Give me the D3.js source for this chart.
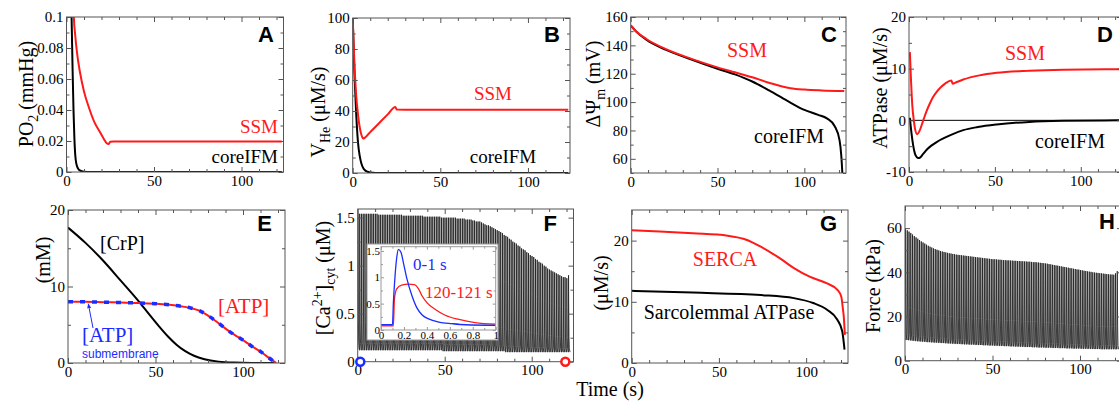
<!DOCTYPE html>
<html><head><meta charset="utf-8">
<script src="https://cdn.jsdelivr.net/npm/d3@7"></script>
<style>
body{margin:0;background:#fff}
svg{display:block}
</style></head><body>
<svg id="chart" width="1119" height="401"></svg>
<script>
// ---------------- DATA ----------------
const timeDomain = [0, 124];
const xTickVals = [0, 50, 100];
const xMinorVals = [10, 20, 30, 40, 60, 70, 80, 90, 110, 120];

// A: PO2 (mmHg)
const po2Ticks = [0, 0.02, 0.04, 0.06, 0.08, 0.1];
const po2Minor = [0.01, 0.03, 0.05, 0.07, 0.09];
const po2CoreIFM = [[0,0.5],[2,0.16],[2.9,0.1],[3.5,0.065],[4,0.04],[4.5,0.022],[5,0.011],[5.5,0.006],[6.5,0.0025],[7.6,0.001],[10,0.0002],[14,0],[123,0]];
const po2SSM = [[3.6,0.13],[4.2,0.1],[5,0.088],[6,0.077],[7.6,0.065],[10,0.052],[13,0.041],[16,0.032],[19,0.026],[21.5,0.021],[23,0.0185],[24,0.018],[25,0.0195],[27,0.0197],[123,0.0197]];

// B: V_He (uM/s)
const vheTicks = [0, 20, 40, 60, 80, 100];
const vheMinor = [10, 30, 50, 70, 90];
const vheCoreIFM = [[0,100],[1,64],[2,38],[3,20],[4,11],[5,6],[6,3.2],[7,1.8],[8,1],[10,0.3],[13,0],[123,0]];
const vheSSM = [[0,100],[1,70],[2,50],[3,38],[4,29.5],[5,24.5],[6,22.2],[7,22.8],[10,26.4],[15,32.1],[20,37.8],[24.3,42.6],[25.2,40.9],[30,40.8],[123,40.8]];

// C: delta Psi_m (mV)
const psiTicks = [60, 80, 100, 120, 140, 160];
const psiMinor = [50, 70, 90, 110, 130, 150];
const psiCoreIFM = [[0,154],[3,150],[9,144],[20,137],[35,130],[50,123.5],[60,119.5],[70,114.5],[80,108],[90,101],[100,94.5],[108,91],[113,88.5],[117.5,83],[120.3,73],[121.3,62],[121.9,50]];
const psiSSM = [[0,154],[3,150],[9,144.5],[20,137.5],[35,130.5],[50,124.5],[60,121],[70,117.5],[80,113.5],[92,109.8],[100,108.8],[110,108.2],[123,107.8]];

// D: ATPase (uM/s)
const atpaseTicks = [-10, 0, 10, 20];
const atpaseMinor = [-5, 5, 15];
const atpaseSSM = [[0.5,13.2],[1.2,7.5],[1.9,3],[2.8,0],[3.6,-1.8],[4.8,-2.7],[6.2,-2],[8.3,0],[10,1.6],[12.2,3.3],[14,4.5],[16.1,5.5],[18.5,6.4],[21,7.1],[24.6,7.7],[25.5,7.1],[27,7.3],[31.6,7.9],[41,8.7],[51,9.2],[70,9.6],[90,9.8],[124,9.9]];
const atpaseCoreIFM = [[0.5,0.5],[1.5,-2.6],[2.5,-5],[3.5,-6.5],[4.5,-7.1],[5.5,-7.3],[6.4,-7.2],[8,-6.6],[10.3,-5.7],[13,-4.9],[16.1,-4.2],[20,-3.5],[23.8,-2.9],[31.6,-1.9],[40,-1.3],[51,-0.8],[70,-0.3],[90,-0.1],[124,0]];

// E: (mM)
const mmTicks = [0, 10, 20];
const mmMinor = [5, 15];
const crp = [[0,17.7],[10,15.7],[20,13.4],[30,10.8],[41,7.9],[47,6.2],[52,4.8],[57,3.5],[62,2.4],[67,1.55],[72,0.95],[78,0.5],[86,0.18],[95,0.05],[105,0.01],[118,0]];
const atp = [[0,8],[10,8],[20,7.95],[30,7.9],[40,7.85],[50,7.75],[58,7.6],[65,7.4],[70,7.2],[75,6.85],[80,6.2],[85,5.4],[90,4.5],[95,3.7],[100,3.0],[105,2.2],[110,1.5],[114,0.8],[119,0]];
const atpSubmembrane = [[0,8],[10,8],[20,7.95],[30,7.9],[40,7.85],[50,7.75],[58,7.6],[65,7.4],[70,7.2],[75,6.85],[80,6.2],[85,5.4],[90,4.5],[95,3.7],[100,3.0],[105,2.2],[110,1.5],[114,0.8],[119,0]];

// F: [Ca2+]cyt (uM) – per-beat peaks and troughs (1 Hz pacing)
const caTicks = [0, 0.5, 1, 1.5];
const caMinor = [0.25, 0.75, 1.25];
const caPeak = [
1.54,1.54,1.54,1.54,1.54,1.54,1.54,1.54,1.54,1.54,
1.54,1.54,1.53,1.53,1.53,1.53,1.53,1.53,1.53,1.53,
1.53,1.53,1.53,1.53,1.53,1.53,1.52,1.52,1.52,1.52,
1.52,1.52,1.52,1.52,1.52,1.52,1.52,1.52,1.51,1.51,
1.51,1.51,1.51,1.51,1.51,1.51,1.51,1.51,1.50,1.50,
1.50,1.50,1.50,1.50,1.50,1.50,1.50,1.49,1.49,1.49,
1.49,1.49,1.48,1.48,1.48,1.48,1.47,1.47,1.46,1.46,
1.46,1.45,1.44,1.43,1.42,1.42,1.41,1.40,1.39,1.38,
1.37,1.36,1.35,1.34,1.32,1.31,1.30,1.28,1.27,1.25,
1.24,1.23,1.21,1.20,1.18,1.17,1.16,1.14,1.13,1.11,
1.10,1.09,1.07,1.06,1.04,1.03,1.02,1.00,0.99,0.97,
0.96,0.95,0.94,0.93,0.92,0.91,0.90,0.89,0.88,0.88,
0.87,0.90];
const caTrough = [
0.13,0.12,0.12,0.12,0.12,0.12,0.12,0.12,0.12,0.12,
0.12,0.12,0.12,0.12,0.12,0.12,0.12,0.12,0.12,0.12,
0.12,0.12,0.12,0.12,0.12,0.12,0.12,0.12,0.12,0.12,
0.12,0.12,0.12,0.12,0.12,0.12,0.12,0.12,0.12,0.12,
0.12,0.12,0.12,0.12,0.12,0.12,0.12,0.12,0.12,0.11,
0.11,0.11,0.11,0.11,0.11,0.11,0.11,0.11,0.11,0.11,
0.11,0.11,0.11,0.11,0.11,0.11,0.11,0.11,0.11,0.11,
0.11,0.11,0.11,0.11,0.11,0.11,0.11,0.11,0.11,0.11,
0.11,0.11,0.11,0.11,0.11,0.10,0.10,0.10,0.10,0.10,
0.10,0.10,0.10,0.10,0.10,0.10,0.10,0.10,0.10,0.10,
0.10,0.10,0.10,0.10,0.10,0.10,0.10,0.10,0.10,0.10,
0.10,0.10,0.10,0.10,0.10,0.10,0.10,0.10,0.10,0.10,
0.10,0.10];
const caBeatShape = [[0,0],[0.1,0],[0.15,1],[0.25,0.6],[0.4,0.2],[0.6,0.05],[1,0]];
// F inset: single beats
const insetXTicks = [0, 0.2, 0.4, 0.6, 0.8, 1];
const insetXMinor = [0.1, 0.3, 0.5, 0.7, 0.9];
const insetYTicks = [0, 0.5, 1, 1.5];
const insetYMinor = [0.25, 0.75, 1.25];
const caBeatFirst = [[0,0.1],[0.1,0.1],[0.108,0.52],[0.123,1.04],[0.137,1.37],[0.152,1.53],[0.175,1.47],[0.196,1.27],[0.225,0.98],[0.27,0.65],[0.313,0.42],[0.357,0.29],[0.415,0.21],[0.503,0.15],[0.62,0.12],[0.737,0.1],[1,0.09]];
const caBeatLast = [[0,0.08],[0.108,0.08],[0.117,0.59],[0.137,0.78],[0.18,0.85],[0.24,0.87],[0.29,0.86],[0.327,0.78],[0.357,0.65],[0.4,0.52],[0.474,0.39],[0.56,0.28],[0.68,0.2],[0.82,0.14],[1,0.11]];

// G: (uM/s)
const pumpTicks = [0, 10, 20];
const pumpMinor = [5, 15];
const serca = [[0,21.7],[16,21.5],[35,21.2],[55,20.8],[64,20.3],[70,19.6],[74,19],[80,18],[85,17.1],[93,15.5],[102,14.1],[112,13],[117.8,12],[120.2,10.8],[121,9],[121.6,7.5],[122.2,4.6]];
const sarcolemmalATPase = [[0,11.8],[35,11.5],[74,11.1],[93,10.6],[104,9.8],[112,8.7],[117.8,7.1],[120.7,5.2],[122,2.2]];

// H: Force (kPa) – per-beat peaks and troughs
const forceTicks = [0, 20, 40, 60];
const forceMinor = [10, 30, 50];
const forcePeak = [
59.5,59.0,58.4,57.8,57.1,56.4,55.8,55.2,54.6,54.0,
53.5,53.0,52.5,52.0,51.6,51.2,50.8,50.5,50.2,49.9,
49.6,49.4,49.2,49.0,48.8,48.6,48.5,48.3,48.2,48.0,
47.9,47.8,47.7,47.6,47.5,47.4,47.3,47.2,47.1,47.0,
46.9,46.8,46.7,46.6,46.5,46.4,46.3,46.2,46.1,46.0,
45.9,45.9,45.8,45.7,45.7,45.6,45.5,45.5,45.4,45.4,
45.3,45.3,45.2,45.2,45.1,45.1,45.0,45.0,44.9,44.9,
44.8,44.8,44.7,44.6,44.6,44.5,44.4,44.3,44.2,44.1,
44.0,43.9,43.7,43.6,43.4,43.3,43.1,43.0,42.8,42.7,
42.5,42.4,42.2,42.1,41.9,41.8,41.6,41.5,41.3,41.2,
41.0,40.9,40.7,40.6,40.4,40.3,40.2,40.0,39.9,39.8,
39.7,39.6,39.5,39.4,39.3,39.2,39.1,39.0,39.0,38.9,
39.5,40.5];
const forceTrough = [
9.6,9.4,9.3,9.2,9.1,9.0,8.9,8.8,8.8,8.7,
8.6,8.6,8.5,8.4,8.4,8.3,8.3,8.2,8.2,8.1,
8.1,8.0,8.0,7.9,7.9,7.8,7.8,7.7,7.7,7.6,
7.6,7.6,7.5,7.5,7.4,7.4,7.4,7.3,7.3,7.3,
7.2,7.2,7.1,7.1,7.1,7.0,7.0,7.0,6.9,6.9,
6.9,6.8,6.8,6.8,6.7,6.7,6.7,6.6,6.6,6.6,
6.5,6.5,6.5,6.4,6.4,6.4,6.3,6.3,6.3,6.2,
6.2,6.2,6.2,6.1,6.1,6.1,6.0,6.0,6.0,6.0,
5.9,5.9,5.9,5.9,5.8,5.8,5.8,5.8,5.7,5.7,
5.7,5.7,5.6,5.6,5.6,5.6,5.5,5.5,5.5,5.5,
5.5,5.4,5.4,5.4,5.4,5.4,5.3,5.3,5.3,5.3,
5.3,5.3,5.2,5.2,5.2,5.2,5.2,5.2,5.2,5.2,
5.2,5.2];
const forceBeatShape = [[0,0],[0.1,0],[0.3,1],[0.5,0.3],[0.7,0.05],[1,0]];

// ---------------- DRAWING ----------------
const SERIF = "'Liberation Serif', 'Times New Roman', Times, serif";
const SANS = "'Liberation Sans', Arial, Helvetica, sans-serif";
const RED = "#ff1a1a", BLUE = "#1a2cff";
const svg = d3.select("#chart");
const defs = svg.append("defs");
defs.append("marker").attr("id","arrowB").attr("viewBox","0 0 10 10").attr("refX",9).attr("refY",5)
  .attr("markerWidth",5).attr("markerHeight",5).attr("orient","auto")
  .append("path").attr("d","M0,1 L10,5 L0,9 Z").attr("fill",BLUE);
let nClip = 0;

function makePanel(o) {
  const x = d3.scaleLinear().domain(o.xDomain || timeDomain).range([o.l, o.r]);
  const y = d3.scaleLinear().domain(o.yDomain).range([o.b, o.t]);
  const id = "cp" + (nClip++);
  defs.append("clipPath").attr("id", id).append("rect")
    .attr("x", o.l).attr("y", o.t).attr("width", o.r - o.l).attr("height", o.b - o.t);
  const root = svg.append("g");
  if (o.bg) root.append("rect").attr("x", o.bg[0]).attr("y", o.bg[1]).attr("width", o.bg[2]).attr("height", o.bg[3])
    .attr("fill", "#fff").attr("stroke", "#999").attr("stroke-width", 1);
  const plot = root.append("g").attr("clip-path", `url(#${id})`);
  const ax = root.append("g");
  const fs = o.fs || 15, tk = o.tick || 5, tkm = o.minorTick || 3, pad = o.pad == null ? 3 : o.pad;
  const col = o.frameColor || "#555";
  function add(axisFn, scale, vals, size, lab, tr) {
    const a = axisFn(scale).tickValues(vals).tickSizeInner(-size).tickSizeOuter(0).tickPadding(pad)
      .tickFormat(lab ? (d => String(d)) : () => "");
    const g = ax.append("g").attr("transform", tr).call(a);
    g.select(".domain").remove();
    g.attr("font-family", null).attr("font-size", null);
    g.selectAll("line").attr("stroke", col);
    g.selectAll("text").style("font-family", SERIF).style("font-size", fs + "px").attr("fill", "#000");
  }
  const xt = o.xTicks || xTickVals, xm = o.xMinor || xMinorVals;
  add(d3.axisBottom, x, xt, tk, true, `translate(0,${o.b})`);
  add(d3.axisBottom, x, xm, tkm, false, `translate(0,${o.b})`);
  add(d3.axisTop, x, xt, tk, false, `translate(0,${o.t})`);
  add(d3.axisTop, x, xm, tkm, false, `translate(0,${o.t})`);
  add(d3.axisLeft, y, o.yTicks, tk, true, `translate(${o.l},0)`);
  add(d3.axisLeft, y, o.yMinor, tkm, false, `translate(${o.l},0)`);
  add(d3.axisRight, y, o.yTicks, tk, false, `translate(${o.r},0)`);
  add(d3.axisRight, y, o.yMinor, tkm, false, `translate(${o.r},0)`);
  ax.append("rect").attr("x", o.l).attr("y", o.t).attr("width", o.r - o.l).attr("height", o.b - o.t)
    .attr("fill", "none").attr("stroke", col).attr("stroke-width", 1);
  if (o.letter) ax.append("text").attr("x", o.letter[1]).attr("y", o.letter[2]).attr("text-anchor", "end")
    .style("font-family", SANS).attr("font-weight", "bold").style("font-size", "22px").attr("fill", "#000").text(o.letter[0]);
  return { x, y, plot, root, ax };
}

function curve(p, data, color, w, dash, curveType) {
  const ln = d3.line().x(d => p.x(d[0])).y(d => p.y(d[1])).curve(curveType || d3.curveMonotoneX);
  return p.plot.append("path").datum(data).attr("d", ln).attr("fill", "none")
    .attr("stroke", color).attr("stroke-width", w || 2).attr("stroke-dasharray", dash || null);
}

function beats(peaks, troughs, shape) {
  const pts = [];
  peaks.forEach((pk, i) => {
    shape.forEach(s => pts.push([i + s[0], troughs[i] + (pk - troughs[i]) * s[1]]));
  });
  return pts;
}

function label(x, y, txt, color, size, anchor, family) {
  return svg.append("text").attr("x", x).attr("y", y).attr("text-anchor", anchor || "middle")
    .style("font-family", family || SERIF).style("font-size", (size || 20) + "px").attr("fill", color || "#000").text(txt);
}

function yLabel(x0, yc, parts) {
  const t = svg.append("text").attr("transform", `translate(${x0},${yc}) rotate(-90)`)
    .attr("text-anchor", "middle").style("font-family", SERIF).style("font-size", "20px").attr("fill", "#000");
  let shift = 0;
  parts.forEach(([s, m]) => {
    const target = m === "sub" ? 5 : m === "sup" ? -8 : 0;
    t.append("tspan").attr("dy", target - shift).style("font-size", (m ? 14 : 20) + "px").text(s);
    shift = target;
  });
}

// Panel A
const pA = makePanel({ l: 66.5, t: 17, r: 283.5, b: 172, yDomain: [0, 0.1], yTicks: po2Ticks, yMinor: po2Minor, letter: ["A", 274, 42] });
curve(pA, po2CoreIFM, "#000");
curve(pA, po2SSM, RED);
label(278, 133, "SSM", RED, 19, "end");
label(278, 163, "coreIFM", "#000", 19, "end");
yLabel(33, 94, [["PO", ""], ["2", "sub"], [" (mmHg)", ""]]);

// Panel B
const pB = makePanel({ l: 352.7, t: 18, r: 570, b: 173, yDomain: [0, 100], yTicks: vheTicks, yMinor: vheMinor, letter: ["B", 560, 42] });
curve(pB, vheCoreIFM, "#000");
curve(pB, vheSSM, RED);
label(493, 100, "SSM", RED, 19);
label(503, 163, "coreIFM", "#000", 19);
yLabel(325, 112, [["V", ""], ["He", "sub"], [" (μM/s)", ""]]);

// Panel C
const pC = makePanel({ l: 630.7, t: 17, r: 846, b: 173, yDomain: [50, 160], yTicks: psiTicks, yMinor: psiMinor, letter: ["C", 837, 42] });
curve(pC, psiCoreIFM, "#000");
curve(pC, psiSSM, RED);
label(747, 57, "SSM", RED, 20);
label(789, 143, "coreIFM", "#000", 20);
yLabel(600, 84, [["ΔΨ", ""], ["m", "sub"], [" (mV)", ""]]);

// Panel D
const pD = makePanel({ l: 909, t: 17, r: 1122, b: 172, yDomain: [-10, 20], yTicks: atpaseTicks, yMinor: atpaseMinor, letter: ["D", 1113, 42] });
pD.plot.append("line").attr("x1", pD.x(0)).attr("x2", pD.x(124)).attr("y1", pD.y(0)).attr("y2", pD.y(0)).attr("stroke", "#000").attr("stroke-width", 1);
curve(pD, atpaseCoreIFM, "#000");
curve(pD, atpaseSSM, RED);
label(1025, 60, "SSM", RED, 20);
label(1070, 148, "coreIFM", "#000", 20);
yLabel(887, 88, [["ATPase (μM/s)", ""]]);

// Panel E
const pE = makePanel({ l: 68, t: 210, r: 285, b: 363, yDomain: [0, 20], yTicks: mmTicks, yMinor: mmMinor, letter: ["E", 272, 231] });
curve(pE, crp, "#000");
curve(pE, atp, RED);
curve(pE, atpSubmembrane, BLUE, 3.5, "5,7");
label(100, 250, "[CrP]", "#000", 20, "start");
label(218, 313, "[ATP]", RED, 21, "start");
label(82, 342, "[ATP]", BLUE, 21, "start");
label(82, 358, "submembrane", BLUE, 12, "start", SANS);
svg.append("line").attr("x1", 93).attr("y1", 328).attr("x2", pE.x(11.6)).attr("y2", pE.y(8) + 2)
  .attr("stroke", BLUE).attr("stroke-width", 1).attr("marker-end", "url(#arrowB)");
yLabel(50, 260, [["(mM)", ""]]);

// Panel F
const pF = makePanel({ l: 357.7, t: 209, r: 573.5, b: 361.7, yDomain: [0, 1.59], yTicks: caTicks, yMinor: caMinor, letter: ["F", 557, 231] });
curve(pF, beats(caPeak, caTrough, caBeatShape), "#222", 0.85, null, d3.curveLinear);
yLabel(330, 278, [["[Ca", ""], ["2+", "sup"], ["]", ""], ["cyt", "sub"], [" (μM)", ""]]);
// inset
const pI = makePanel({ l: 381, t: 246.7, r: 495.7, b: 330, xDomain: [0, 1], yDomain: [0, 1.58],
  xTicks: insetXTicks, xMinor: insetXMinor, yTicks: insetYTicks, yMinor: insetYMinor,
  fs: 11, tick: 3, minorTick: 2, pad: 1, frameColor: "#999", bg: [367, 244, 131, 96] });
curve(pI, caBeatLast, RED, 1.3);
curve(pI, caBeatFirst, BLUE, 1.3);
label(413, 270, "0-1 s", BLUE, 17, "start");
label(425, 298, "120-121 s", RED, 17, "start");
// beat markers on F axis
svg.append("circle").attr("cx", pF.x(1.5)).attr("cy", pF.y(0)).attr("r", 4).attr("fill", "#fff").attr("stroke", BLUE).attr("stroke-width", 2.5);
svg.append("circle").attr("cx", pF.x(119.3)).attr("cy", pF.y(0)).attr("r", 4).attr("fill", "#fff").attr("stroke", RED).attr("stroke-width", 2.5);

// Panel G
const pG = makePanel({ l: 631.7, t: 210, r: 848, b: 363, yDomain: [0, 25], yTicks: pumpTicks, yMinor: pumpMinor, letter: ["G", 837, 231] });
curve(pG, sarcolemmalATPase, "#000");
curve(pG, serca, RED);
label(725, 266, "SERCA", RED, 20);
label(729, 319, "Sarcolemmal ATPase", "#000", 20);
yLabel(608, 283, [["(μM/s)", ""]]);

// Panel H
const pH = makePanel({ l: 905, t: 206, r: 1122, b: 360.7, yDomain: [0, 70], yTicks: forceTicks, yMinor: forceMinor, letter: ["H", 1115, 229] });
curve(pH, beats(forcePeak, forceTrough, forceBeatShape), "#222", 0.85, null, d3.curveLinear);
yLabel(880, 286, [["Force (kPa)", ""]]);

// shared x label
label(610, 396, "Time (s)", "#000", 20);
</script>
</body></html>
